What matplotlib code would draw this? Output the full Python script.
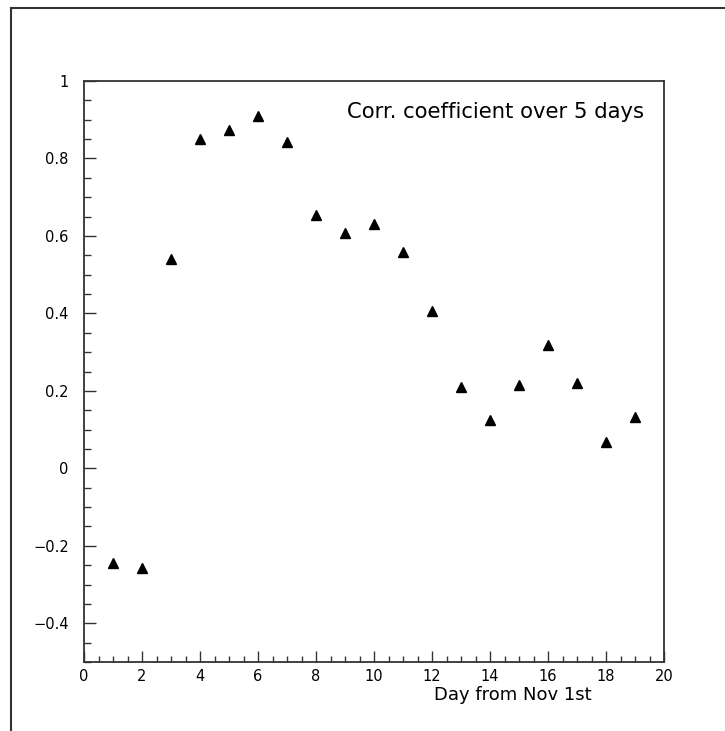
import matplotlib
matplotlib.use("Agg")
import matplotlib.pyplot as plt
from matplotlib.lines import Line2D
from matplotlib.ticker import FixedLocator, MultipleLocator

days = [1, 2, 3, 4, 5, 6, 7, 8, 9, 10, 11, 12, 13, 14, 15, 16, 17, 18, 19]
corr = [-0.244, -0.258, 0.540, 0.850, 0.873, 0.910, 0.843, 0.653, 0.608, 0.632,
        0.559, 0.407, 0.211, 0.125, 0.216, 0.318, 0.221, 0.068, 0.133]
y_ticks = [-0.4, -0.2, 0, 0.2, 0.4, 0.6, 0.8, 1]
y_labels = ["\u22120.4", "\u22120.2", "0", "0.2", "0.4", "0.6", "0.8", "1"]
x_ticks = list(range(0, 21, 2))

plt.rcParams['font.family'] = ['DejaVu Sans']

fig = plt.figure(figsize=(7.25, 7.31), dpi=100)
fig.patch.set_facecolor("white")

# outer pad frame (only left and top edges are visible)
fig.add_artist(Line2D([11/725, 11/725], [0, 1 - 8/731], transform=fig.transFigure,
                      color="#333333", lw=1.5))
fig.add_artist(Line2D([11/725, 1], [1 - 8/731, 1 - 8/731], transform=fig.transFigure,
                      color="#333333", lw=1.5))

ax = fig.add_axes([84/725, 1 - 662/731, 580/725, 581/731])
ax.plot(days, corr, linestyle="none", marker="^", ms=7.3, color="black")

ax.set_xlim(0, 20)
ax.set_ylim(-0.5, 1)

ax.xaxis.set_major_locator(FixedLocator(x_ticks))
ax.xaxis.set_minor_locator(MultipleLocator(0.5))
ax.set_xticklabels([str(v) for v in x_ticks])
ax.yaxis.set_major_locator(FixedLocator(y_ticks))
ax.yaxis.set_minor_locator(MultipleLocator(0.05))
ax.set_yticklabels(y_labels)

ax.tick_params(which="both", direction="in", top=False, right=False, colors="#333333",
               labelcolor="black", width=1)
ax.tick_params(axis="y", which="major", length=8.5, pad=11, labelsize=10.5)
ax.tick_params(axis="y", which="minor", length=5)
ax.tick_params(axis="x", which="major", length=8, pad=5, labelsize=10.5)
ax.tick_params(axis="x", which="minor", length=4.5)

for s in ax.spines.values():
    s.set_color("#333333")
    s.set_linewidth(1.3)

ax.text(0.966, 0.946, "Corr. coefficient over 5 days", transform=ax.transAxes,
        ha="right", va="center", fontsize=15.2)
fig.text(592/725, 1 - 695/731, "Day from Nov 1st", ha="right", va="center", fontsize=13)

fig.savefig("out.png", dpi=100)
